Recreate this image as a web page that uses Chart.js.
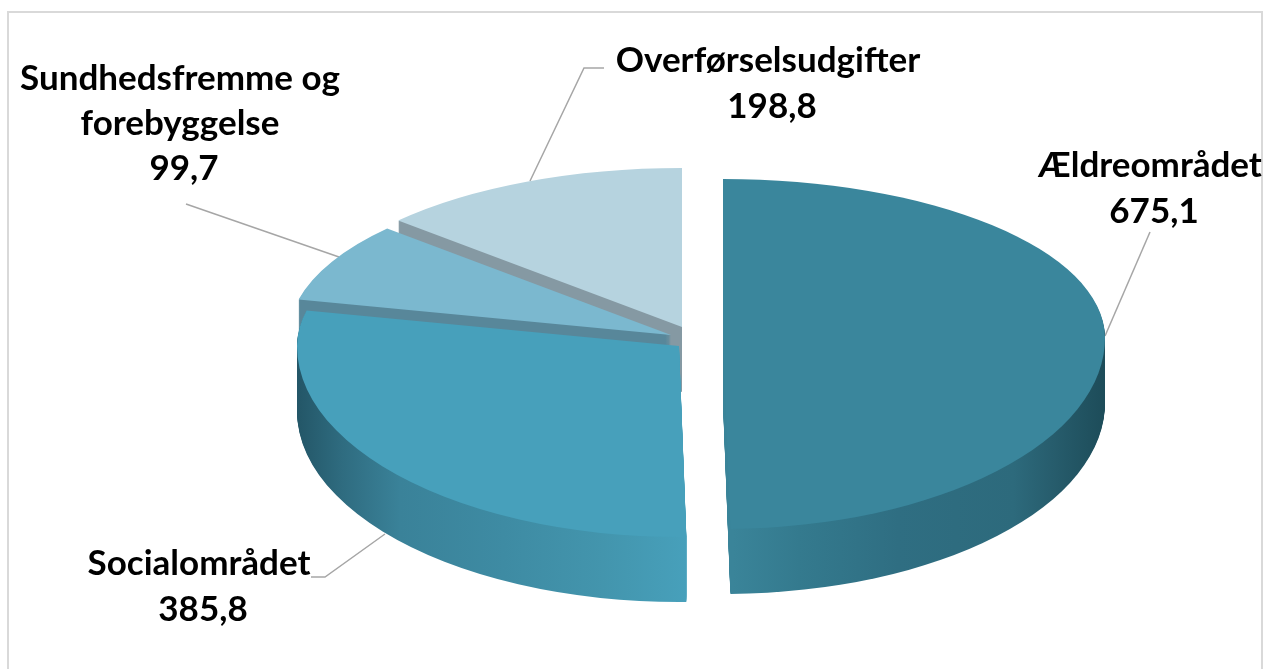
<!DOCTYPE html>
<html lang="da">
<head>
<meta charset="utf-8">
<title>Udgifter</title>
<script src="https://cdn.jsdelivr.net/npm/chart.js@4"></script>
<style>
  html, body { margin: 0; padding: 0; background: #fff; }
  canvas { display: block; }
</style>
</head>
<body>
<canvas id="pie" width="1264" height="669"></canvas>
<script>
// data
const categories = ['Ældreområdet', 'Socialområdet', 'Sundhedsfremme og forebyggelse', 'Overførselsudgifter'];
const values = [675.1, 385.8, 99.7, 198.8];

// look of each slice, same order as categories
const topColors = ['#3a869c', '#47a0bb', '#7bb8cf', '#b6d3df'];
const sideStops = [
  [[0, '#3a8499'], [0.513, '#3a8499'], [0.6, '#347a8e'], [0.73, '#2f6e82'], [0.88, '#2d6a7c'], [0.93, '#275d6d'], [1, '#1d4c59']],
  [[0, '#235667'], [0.06, '#2f6c80'], [0.135, '#3a8299'], [0.27, '#3e8ba3'], [0.4, '#4395ad'], [0.51, '#47a0bb'], [1, '#47a0bb']],
  [[0, '#58879a'], [1, '#58879a']],
  [[0, '#8599a3'], [1, '#8599a3']]
];
// where the middle of each slice ends up on the page (exploded pie)
const apexX = [723, 679, 671, 682];
const apexY = [338, 346, 335, 327];

// fake 3d: the disc is tilted, back half is flatter than the front half
const RX = 382, RY_BACK = 159, RY_FRONT = 191, DEPTH = 65;
const WARP_BACK = 1.18, WARP_FRONT = 1.1;

const labelLines = [
  { lines: ['Ældreområdet'], x: 1150, y: 177, valueX: 1154 },
  { lines: ['Socialområdet'], x: 199, y: 575, valueX: 203 },
  { lines: ['Sundhedsfremme og', 'forebyggelse'], x: 180, y: 90, valueX: 184 },
  { lines: ['Overførselsudgifter'], x: 768, y: 72, valueX: 772 }
];
const leaders = [
  [[1105, 336], [1150, 232]],
  [[385, 534], [325, 577], [311, 577]],
  [[339, 257], [186, 204]],
  [[530, 181], [584, 68], [604, 68]]
];
const LINE_HEIGHT = 45;

// angle on the flat disc -> angle to draw at, so the cuts land where perspective puts them
function projectAngle(a) {
  const t = a + Math.PI / 2;
  const c = Math.cos(t), s = Math.sin(t);
  let r = Math.atan2(s, c * (c > 0 ? WARP_BACK : WARP_FRONT));
  // keep it increasing with t
  while (r < t - Math.PI) r += Math.PI * 2;
  while (r > t + Math.PI) r -= Math.PI * 2;
  return r - Math.PI / 2;
}

function drawDisc(ctx, chart, arc, i, dy, fill) {
  const w = chart.width, h = chart.height;
  const cx = apexX[i], cy = apexY[i] + dy;
  const R = arc.outerRadius;
  [[0, cy, RY_BACK], [cy, h - cy, RY_FRONT]].forEach(([top, height, ry]) => {
    ctx.save();
    ctx.beginPath();
    ctx.rect(0, top, w, height);
    ctx.clip();
    ctx.translate(cx, cy);
    ctx.scale(RX / R, ry / R);
    ctx.translate(-arc.x, -arc.y);
    const keep = { o: arc.options, s: arc.startAngle, e: arc.endAngle, c: arc.circumference };
    arc.startAngle = projectAngle(keep.s);
    arc.endAngle = projectAngle(keep.e);
    arc.circumference = arc.endAngle - arc.startAngle;
    arc.options = {
      backgroundColor: fill, borderColor: fill, borderWidth: 0, borderAlign: 'center',
      borderRadius: 0, borderJoinStyle: 'round', offset: 0, spacing: 0, circular: true
    };
    arc.draw(ctx);
    arc.options = keep.o;
    arc.startAngle = keep.s;
    arc.endAngle = keep.e;
    arc.circumference = keep.c;
    ctx.restore();
  });
}

const pie3d = {
  id: 'pie3d',
  beforeDraw(chart) {
    const ctx = chart.ctx;
    ctx.save();
    ctx.strokeStyle = '#d9d9d9';
    ctx.lineWidth = 2;
    ctx.strokeRect(8, 12, 1254, 680);
    ctx.restore();
  },
  beforeDatasetsDraw(chart) {
    const ctx = chart.ctx;
    const meta = chart.getDatasetMeta(0);

    ctx.save();
    ctx.strokeStyle = '#a6a6a6';
    ctx.lineWidth = 1.5;
    leaders.forEach(pts => {
      ctx.beginPath();
      pts.forEach((p, k) => (k ? ctx.lineTo(p[0], p[1]) : ctx.moveTo(p[0], p[1])));
      ctx.stroke();
    });
    ctx.restore();

    // back slices first, the front ones cover their cut faces
    [3, 2, 1, 0].forEach(i => {
      const arc = meta.data[i];
      const R = arc.outerRadius;
      const grad = ctx.createLinearGradient(arc.x - R, 0, arc.x + R, 0);
      sideStops[i].forEach(s => grad.addColorStop(s[0], s[1]));
      for (let dy = DEPTH; dy > 0; dy--) drawDisc(ctx, chart, arc, i, dy, grad);
      drawDisc(ctx, chart, arc, i, 0, topColors[i]);
    });

    ctx.save();
    ctx.fillStyle = '#000';
    ctx.font = 'bold 35px Lato';
    ctx.textAlign = 'center';
    labelLines.forEach((l, i) => {
      l.lines.forEach((t, k) => ctx.fillText(t, l.x, l.y + k * LINE_HEIGHT));
      const txt = values[i].toFixed(1).replace('.', ',');
      ctx.fillText(txt, l.valueX, l.y + l.lines.length * LINE_HEIGHT + (l.lines.length > 1 ? 0 : 1));
    });
    ctx.restore();
    return false;
  }
};

new Chart(document.getElementById('pie').getContext('2d'), {
  type: 'pie',
  data: { labels: categories, datasets: [{ data: values, backgroundColor: topColors, borderWidth: 0 }] },
  options: {
    responsive: false,
    animation: false,
    events: [],
    plugins: { legend: { display: false }, tooltip: { enabled: false } }
  },
  plugins: [pie3d]
});
</script>
</body>
</html>
